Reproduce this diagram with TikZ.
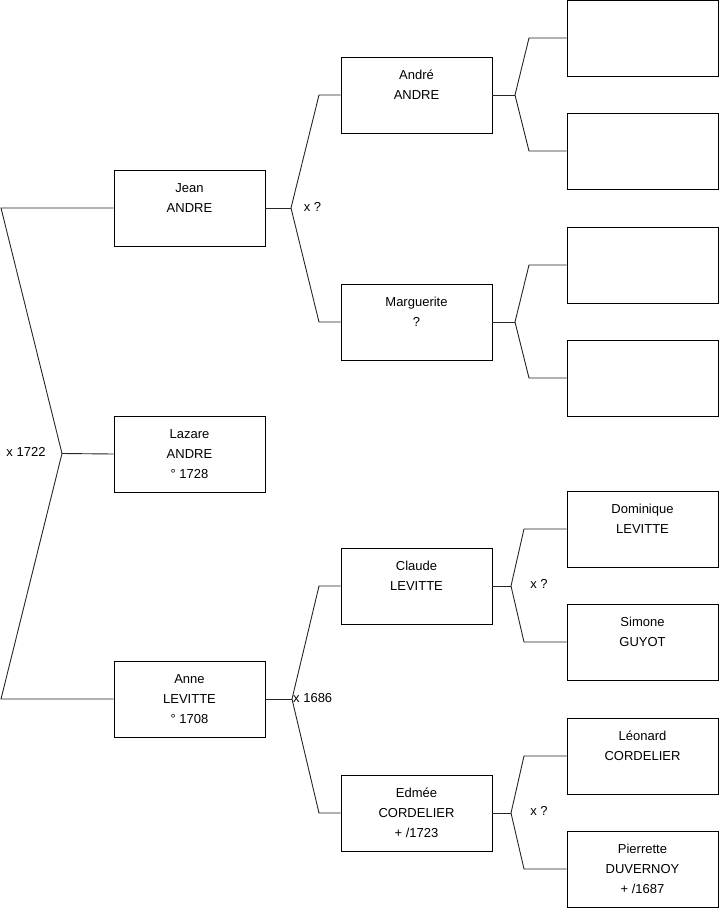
\documentclass[tikz,border=0pt]{standalone}
\usepackage{fontspec}
\setmainfont{Liberation Sans}
\begin{document}
\begin{tikzpicture}[x=1pt,y=-1pt,
  person/.style={draw=black,line width=0.9pt,rectangle,minimum width=151pt,minimum height=76pt,inner sep=0pt,align=center,font=\fontsize{13}{20}\selectfont},
  link/.style={draw=black!85,line width=0.9pt},
  lab/.style={inner sep=0pt,font=\fontsize{13}{15}\selectfont}]
\useasboundingbox (0,0) rectangle (719,908);
% column 1
\node[person] (jean) at (189.5,208) {\strut Jean\\\strut ANDRE\\\strut};
\node[person] (lazare) at (189.5,454) {\strut Lazare\\\strut ANDRE\\\strut ° 1728};
\node[person] (anne) at (189.5,699) {\strut Anne\\\strut LEVITTE\\\strut ° 1708};
% column 2
\node[person] (andre) at (416.5,95) {\strut André\\\strut ANDRE\\\strut};
\node[person] (marg) at (416.5,322) {\strut Marguerite\\\strut ?\\\strut};
\node[person] (claude) at (416.5,586) {\strut Claude\\\strut LEVITTE\\\strut};
\node[person] (edmee) at (416.5,813) {\strut Edmée\\\strut CORDELIER\\\strut + /1723};
% column 3
\node[person] (p1) at (642.5,38) {};
\node[person] (p2) at (642.5,151) {};
\node[person] (p3) at (642.5,265) {};
\node[person] (p4) at (642.5,378) {};
\node[person] (dom) at (642.5,529) {\strut Dominique\\\strut LEVITTE\\\strut};
\node[person] (sim) at (642.5,642) {\strut Simone\\\strut GUYOT\\\strut};
\node[person] (leo) at (642.5,756) {\strut Léonard\\\strut CORDELIER\\\strut};
\node[person] (pie) at (642.5,869) {\strut Pierrette\\\strut DUVERNOY\\\strut + /1687};
% left fork
\coordinate (l0) at (62,453.5);
\coordinate (l1) at (1,208);
\coordinate (l2) at (1,699);
\draw[link] (jean.west) -- (l1) -- (l0) -- (l2) -- (anne.west);
\draw[link] (l0) -- (lazare.west);
\node[lab] (m1) at (26,452) {x 1722};
% Jean fork
\coordinate (j0) at (291,208);
\draw[link] (jean.east) -- (j0);
\draw[link] (j0) -- (319,95) -- (andre.west);
\draw[link] (j0) -- (319,322) -- (marg.west);
\node[lab] (m2) at (312.5,207) {x ?};
% Andre fork
\coordinate (a0) at (515,95);
\draw[link] (andre.east) -- (a0);
\draw[link] (a0) -- (529,38) -- (p1.west);
\draw[link] (a0) -- (529,151) -- (p2.west);
% Marguerite fork
\coordinate (g0) at (515,322);
\draw[link] (marg.east) -- (g0);
\draw[link] (g0) -- (529,265) -- (p3.west);
\draw[link] (g0) -- (529,378) -- (p4.west);
% Anne fork
\coordinate (n0) at (292,699);
\draw[link] (anne.east) -- (n0);
\draw[link] (n0) -- (319,586) -- (claude.west);
\draw[link] (n0) -- (319,813) -- (edmee.west);
\node[lab,anchor=west] (m3) at (293,698) {x 1686};
% Claude fork
\coordinate (c0) at (511,586);
\draw[link] (claude.east) -- (c0);
\draw[link] (c0) -- (524,529) -- (dom.west);
\draw[link] (c0) -- (524,642) -- (sim.west);
\node[lab] (m4) at (539,584) {x ?};
% Edmee fork
\coordinate (e0) at (511,813);
\draw[link] (edmee.east) -- (e0);
\draw[link] (e0) -- (524,756) -- (leo.west);
\draw[link] (e0) -- (524,869) -- (pie.west);
\node[lab] (m5) at (539,811) {x ?};
\end{tikzpicture}
\end{document}
